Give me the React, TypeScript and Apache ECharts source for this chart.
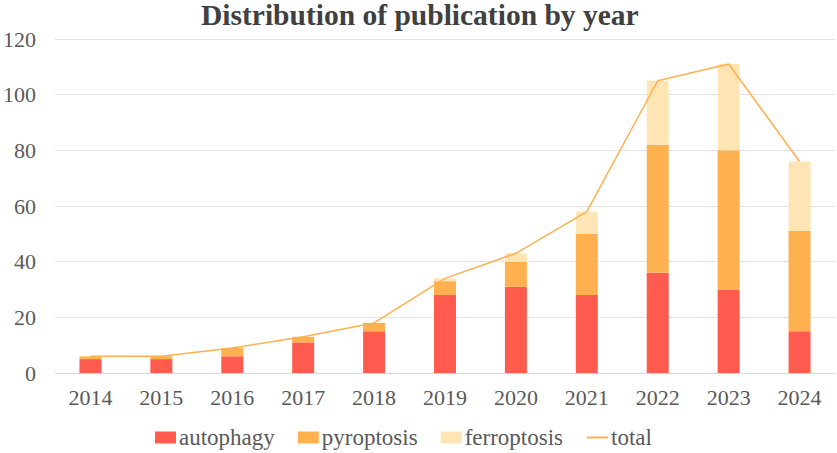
import React, { useEffect, useRef } from "react";
import * as echarts from "echarts";

const years = ["2014", "2015", "2016", "2017", "2018", "2019", "2020", "2021", "2022", "2023", "2024"];
const autophagy = [5, 5, 6, 11, 15, 28, 31, 28, 36, 30, 15];
const pyroptosis = [1, 1, 3, 2, 3, 5, 9, 22, 46, 50, 36];
const ferroptosis = [0, 0, 0, 0, 0, 1, 3, 8, 23, 31, 25];
const total = [6, 6, 9, 13, 18, 34, 43, 58, 105, 111, 76];

const FONT = "Liberation Serif";

export default function App() {
  const ref = useRef<HTMLDivElement>(null);
  useEffect(() => {
    if (!ref.current) return;
    const chart = echarts.init(ref.current, undefined, { renderer: "svg" });
    chart.setOption({
      animation: false,
      backgroundColor: "#ffffff",
      title: {
        text: "Distribution of publication by year",
        left: 201,
        top: 0,
        padding: 0,
        textStyle: { fontFamily: FONT, fontSize: 29.5, fontWeight: "bold", color: "#404040" },
      },
      grid: { left: 53, right: 2, top: 39, bottom: 80, containLabel: false },
      legend: {
        top: 426,
        left: 155,
        padding: 0,
        itemWidth: 21,
        itemHeight: 12,
        itemGap: 23,
        textStyle: { fontFamily: FONT, fontSize: 23, color: "#595959", fontWeight: "normal", padding: [0, 0, 0, -2] },
        data: [
          { name: "autophagy", icon: "rect" },
          { name: "pyroptosis", icon: "rect" },
          { name: "ferroptosis", icon: "rect" },
          { name: "total", itemStyle: { opacity: 0 } },
        ],
      },
      xAxis: {
        type: "category",
        data: years,
        axisTick: { show: false },
        axisLine: { lineStyle: { color: "#d9d9d9", width: 1 } },
        axisLabel: { fontFamily: FONT, fontWeight: "normal", fontSize: 22, color: "#595959", margin: 13 },
      },
      yAxis: {
        type: "value",
        min: 0,
        max: 120,
        interval: 20,
        axisLine: { show: false },
        axisTick: { show: false },
        splitLine: { lineStyle: { color: "#e3e3e3", width: 1 } },
        axisLabel: { fontFamily: FONT, fontSize: 22, color: "#595959", margin: 19 },
      },
      series: [
        { name: "autophagy", type: "bar", stack: "a", barWidth: 22, data: autophagy, itemStyle: { color: "#FF5C4F" } },
        { name: "pyroptosis", type: "bar", stack: "a", barWidth: 22, data: pyroptosis, itemStyle: { color: "#FFB04F" } },
        { name: "ferroptosis", type: "bar", stack: "a", barWidth: 22, data: ferroptosis, itemStyle: { color: "#FFE5B3" } },
        {
          name: "total",
          type: "line",
          data: total,
          symbol: "none",
          lineStyle: { color: "#FFB04F", width: 1.5 },
          itemStyle: { color: "#FFB04F" },
        },
      ],
    });
    return () => chart.dispose();
  }, []);
  return (
    <div
      ref={ref}
      style={{ position: "absolute", left: 0, top: 0, width: 837, height: 453, background: "#ffffff" }}
    />
  );
}
